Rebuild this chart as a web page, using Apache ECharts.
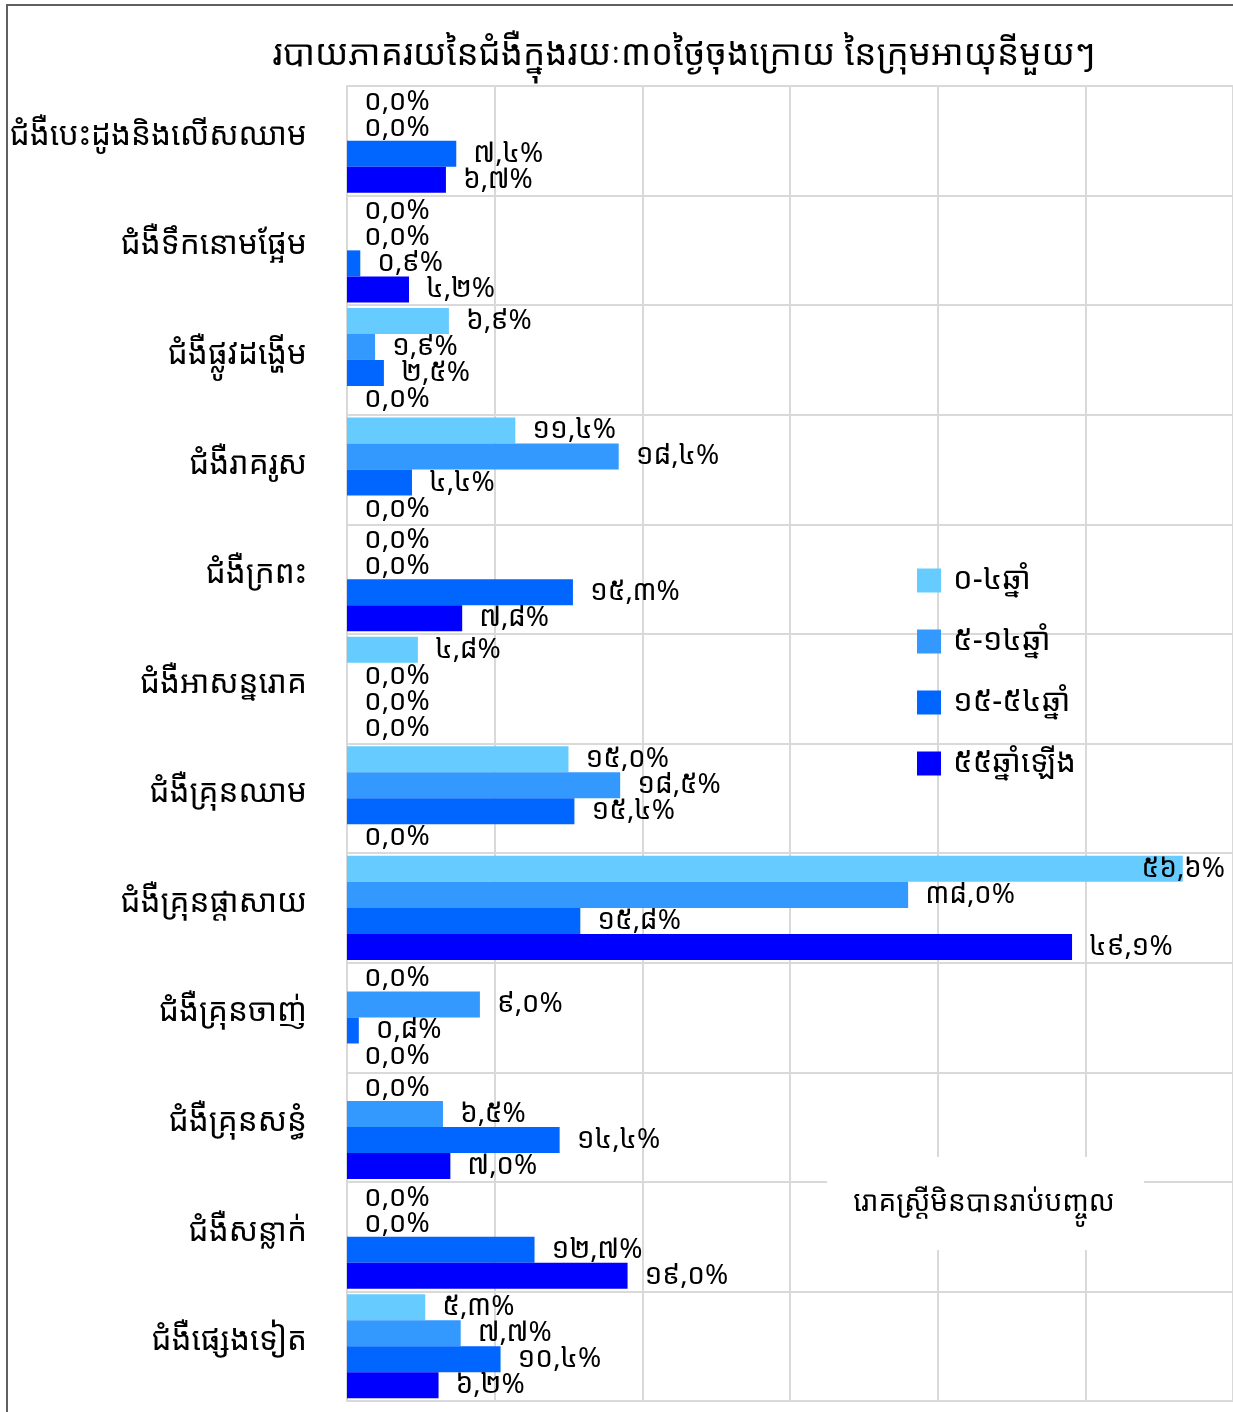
<!DOCTYPE html>
<html>
<head>
<meta charset="utf-8">
<script src="https://cdn.jsdelivr.net/npm/echarts@6/dist/echarts.min.js"></script>
<style>
  html, body { margin: 0; padding: 0; background: #ffffff; }
  #frame { position: absolute; left: 6px; top: 4px; width: 1227px; height: 1408px;
           border-left: 2px solid #606060; border-top: 2px solid #606060; }
  #chart { position: absolute; left: 0; top: 0; width: 1233px; height: 1412px; }
</style>
</head>
<body>
<div id="frame"></div>
<div id="chart"></div>
<script>
// Disease categories, listed top to bottom
const categories = [
  'ជំងឺបេះដូងនិងលើសឈាម',
  'ជំងឺទឹកនោមផ្អែម',
  'ជំងឺផ្លូវដង្ហើម',
  'ជំងឺរាគរូស',
  'ជំងឺក្រពះ',
  'ជំងឺអាសន្នរោគ',
  'ជំងឺគ្រុនឈាម',
  'ជំងឺគ្រុនផ្តាសាយ',
  'ជំងឺគ្រុនចាញ់',
  'ជំងឺគ្រុនសន្ធំ',
  'ជំងឺសន្លាក់',
  'ជំងឺផ្សេងទៀត'
];

// Age groups
const ageGroups = ['០-៤ឆ្នាំ', '៥-១៤ឆ្នាំ', '១៥-៥៤ឆ្នាំ', '៥៥ឆ្នាំឡើង'];

// Percent of each age group reporting the disease in the last 30 days
const age0to4   = [0.0, 0.0, 6.9, 11.4, 0.0, 4.8, 15.0, 56.6, 0.0, 0.0, 0.0, 5.3];
const age5to14  = [0.0, 0.0, 1.9, 18.4, 0.0, 0.0, 18.5, 38.0, 9.0, 6.5, 0.0, 7.7];
const age15to54 = [7.4, 0.9, 2.5, 4.4, 15.3, 0.0, 15.4, 15.8, 0.8, 14.4, 12.7, 10.4];
const age55up   = [6.7, 4.2, 0.0, 0.0, 7.8, 0.0, 0.0, 49.1, 0.0, 7.0, 19.0, 6.2];

const seriesValues = [age0to4, age5to14, age15to54, age55up];
const seriesColors = ['#66ccff', '#3399ff', '#0066ff', '#0000ff'];

const titleText = 'របាយភាគរយនៃជំងឺក្នុងរយៈ៣០ថ្ងៃចុងក្រោយ នៃក្រុមអាយុនីមួយៗ';
const noteText = 'រោគស្ត្រីមិនបានរាប់បញ្ចូល';

const FONT = '"Noto Sans Khmer", "Khmer OS", "Noto Sans", sans-serif';
const khmerDigits = '០១២៣៤៥៦៧៨៩';
function toKhmer(str) {
  return str.replace(/[0-9]/g, d => khmerDigits[+d]);
}
function pctLabel(v) {
  return toKhmer(v.toFixed(1).replace('.', ',')) + '%';
}

// Plot geometry
const GRID_LEFT = 347, GRID_RIGHT = 0, GRID_TOP = 86, GRID_BOTTOM = 11;
const CHART_W = 1233;
const X_MAX = 60;
const LABEL_SIZE = 28;
const LABEL_DIST = 17;

// Measure label text so a label that would run past the plot edge is pulled back inside
const measureCtx = document.createElement('canvas').getContext('2d');
measureCtx.font = LABEL_SIZE + 'px ' + FONT;
const plotW = CHART_W - GRID_LEFT - GRID_RIGHT;

function buildData(values) {
  return values.map(v => {
    const endPx = GRID_LEFT + v / X_MAX * plotW;
    const w = measureCtx.measureText(pctLabel(v)).width;
    const limit = CHART_W - GRID_RIGHT - 8;
    const item = { value: v };
    if (endPx + LABEL_DIST + w > limit) {
      item.label = { offset: [limit - (endPx + LABEL_DIST + w), 0] };
    }
    return item;
  });
}

const chart = echarts.init(document.getElementById('chart'), null, { renderer: 'canvas' });

const series = seriesValues.map((vals, i) => ({
  name: ageGroups[i],
  type: 'bar',
  data: buildData(vals),
  barGap: '0%',
  barCategoryGap: '5%',
  itemStyle: { color: seriesColors[i] },
  label: {
    show: true,
    position: 'right',
    distance: LABEL_DIST,
    color: '#000000',
    fontSize: LABEL_SIZE,
    fontFamily: FONT,
    formatter: p => pctLabel(p.value)
  },
  emphasis: { disabled: true }
}));

chart.setOption({
  backgroundColor: 'transparent',
  animation: false,
  textStyle: { fontFamily: FONT },
  grid: { left: GRID_LEFT, right: GRID_RIGHT, top: GRID_TOP, bottom: GRID_BOTTOM, containLabel: false },
  xAxis: {
    type: 'value',
    min: 0,
    max: X_MAX,
    interval: 10,
    axisLabel: { show: false },
    axisLine: { show: false },
    axisTick: { show: false },
    splitLine: { show: true, lineStyle: { color: '#d9d9d9', width: 2 } }
  },
  yAxis: {
    type: 'category',
    data: categories,
    inverse: true,
    axisLine: { show: true, lineStyle: { color: '#d9d9d9', width: 2 } },
    axisTick: { show: false },
    axisLabel: {
      margin: 40,
      formatter: v => '{c|' + v + '}',
      rich: {
        c: { color: '#000000', fontSize: 31.5, fontFamily: FONT, padding: [0, 0, 10, 0] }
      }
    },
    splitLine: { show: true, lineStyle: { color: '#d9d9d9', width: 2 } }
  },
  legend: {
    orient: 'vertical',
    left: 912,
    top: 560,
    itemWidth: 24,
    itemHeight: 24,
    itemGap: 30,
    icon: 'rect',
    data: ageGroups,
    selectedMode: false,
    textStyle: { color: '#000000', fontSize: 31, fontFamily: FONT, padding: [0, 0, 0, 7] }
  },
  graphic: [
    {
      type: 'text',
      x: 684,
      y: 55,
      style: { text: titleText, align: 'center', verticalAlign: 'middle', fontSize: 35, fontFamily: FONT, fill: '#000000' }
    },
    {
      type: 'rect',
      shape: { x: 827, y: 1157, width: 317, height: 93 },
      style: { fill: '#ffffff' },
      z: 10
    },
    {
      type: 'text',
      x: 984,
      y: 1203,
      z: 11,
      style: { text: noteText, align: 'center', verticalAlign: 'middle', fontSize: 28, fontFamily: FONT, fill: '#000000' }
    }
  ],
  series: series
});
</script>
</body>
</html>
